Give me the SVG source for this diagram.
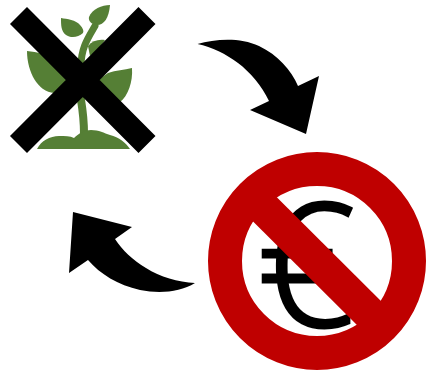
<svg xmlns="http://www.w3.org/2000/svg" width="429" height="371" viewBox="0 0 429 371">
<style>
.leaf{fill:#557f35}
.stem{fill:none;stroke:#557f35;stroke-linecap:round}
.cross{stroke:#000;stroke-width:24;fill:none}
.red{fill:none;stroke:#bf0000;stroke-width:34}
.euro{font-family:"Open Sans",sans-serif;font-weight:300;font-size:172px;fill:#000;stroke:#000;stroke-width:3}
</style>
<rect width="429" height="371" fill="#fff"/>
<g id="plant">
<path class="leaf" d="M27 51C37 52 47 54 56 60L72 80L54 93C38 92 27 72 27 51Z"/>
<path class="leaf" d="M132 68C124 70 116 70 108 73L92 84L120 102C128 96 133 82 132 68Z"/>
<path class="leaf" d="M110 5C102 5 92 9 89 17C88 21 92 25 97 25C104 25 109 18 110 5Z"/>
<path class="leaf" d="M61 18C67 19 76 20 80 25C83 28 84 31 83 33C78 38 70 38 66 35C61 31 61 25 61 18Z"/>
<path class="leaf" d="M88 46C92 41 98 39 105 40L98 50L90 56Z"/>
<path class="stem" stroke-width="7" d="M95 26C88 38 81 48 81 66"/>
<path class="stem" stroke-width="8" d="M81 100C83 112 84 122 84 134"/>
<path class="leaf" d="M37 149C41 141 50 136 59 136C65 136 70 136 74 138C79 133 85 130 91 130C99 130 104 133 110 135C119 137 126 143 130 149Z"/>
</g>
<g id="cross">
<path class="cross" d="M18.500 15.500L147 144.500M147 15.500L18.500 144.500"/>
</g>
<g id="no-euro">
<text class="euro" x="257" y="326">€</text>
<circle class="red" cx="317" cy="261" r="92"/>
<path class="red" d="M250 194.500L384 328"/>
</g>
<g id="connectors">
<path d="M197.500 44C215 39 240 37 259 46C278 55 291 70 298 86L319 76L306 134L250 110L269 101C262 86 250 72 238 63C226 54 212 47 197.500 44Z"/>
<path d="M195 283C180 292 160 294 140 290C118 285 100 274 88 260L69 273L73 212L132 227L115 239C122 250 133 260 146 268C160 277 178 282 195 283Z"/>
</g>
</svg>
